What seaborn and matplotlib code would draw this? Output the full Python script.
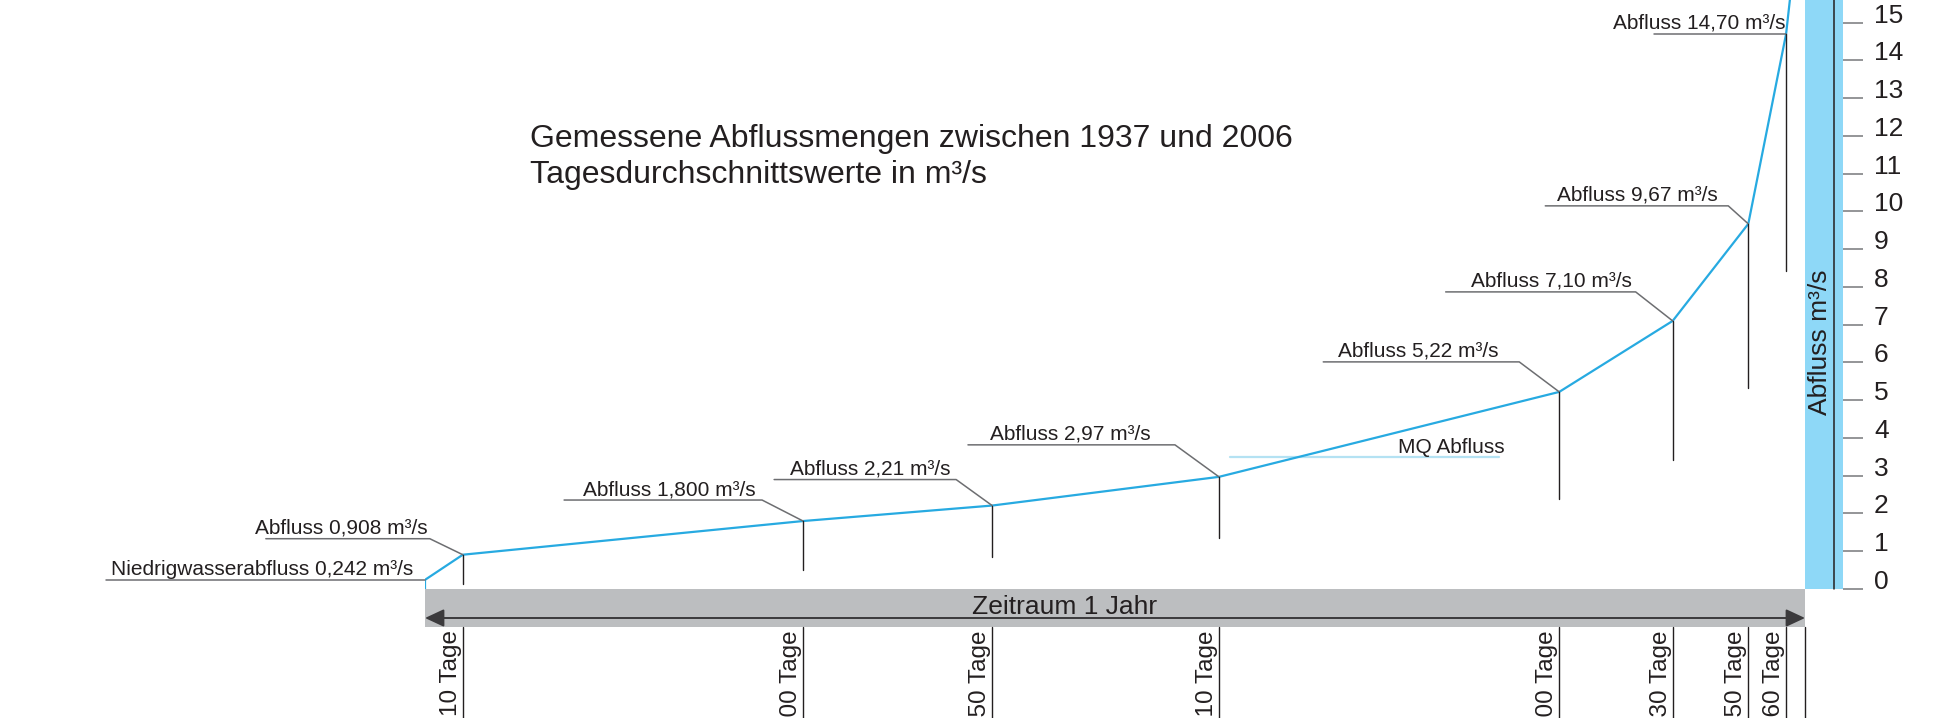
import matplotlib
matplotlib.use("Agg")
import matplotlib.pyplot as plt
from matplotlib.patches import Rectangle
import seaborn as sns
import pandas as pd

# ---------------- data ----------------
days = [0, 0, 10, 100, 150, 210, 300, 330, 350, 360, 365]
discharge = [0.0, 0.242, 0.908, 1.800, 2.21, 2.97, 5.22, 7.10, 9.67, 14.70, 19.2]

point_days = [0, 10, 100, 150, 210, 300, 330, 350, 360]
point_values = [0.242, 0.908, 1.800, 2.21, 2.97, 5.22, 7.10, 9.67, 14.70]
point_labels = ["Niedrigwasserabfluss 0,242 m³/s", "Abfluss 0,908 m³/s",
                "Abfluss 1,800 m³/s", "Abfluss 2,21 m³/s", "Abfluss 2,97 m³/s",
                "Abfluss 5,22 m³/s", "Abfluss 7,10 m³/s", "Abfluss 9,67 m³/s",
                "Abfluss 14,70 m³/s"]

tag_days = [10, 100, 150, 210, 300, 330, 350, 360]
tag_labels = ["10 Tage", "100 Tage", "150 Tage", "210 Tage", "300 Tage",
              "330 Tage", "350 Tage", "360 Tage"]

y_ticks = list(range(0, 16))
mq_value = 3.5
mq_label = "MQ Abfluss"
title_lines = ["Gemessene Abflussmengen zwischen 1937 und 2006",
               "Tagesdurchschnittswerte in m³/s"]
period_label = "Zeitraum 1 Jahr"
axis_label = "Abfluss m³/s"

# ---------------- layout (pixel offsets, styles) ----------------
leader_left_dx = [-319, -197, -239, -218, -251, -236, -227, -203, -132]
leader_bend_dx = [0, -33, -41, -36, -44, -40, -37, -20, 0]
leader_dy = [0, -16, -21, -26, -32, -30, -29, -18, 0]
text_right_dx = [-12, -35, -47, -42, -68, -61, -41, -31, -1]
stub_dy = [None, 29, 49, 51, 61, 107, 139, 164, 237]

TXT = "#231f20"
BLUE = "#27aae1"
BAND = "#8ed8f7"
BAR = "#bcbec0"
LEAD = "#6d6e71"
MQC = "#b4e2f3"

sns.set_style("white")
plt.rcParams["font.family"] = ["Liberation Sans", "DejaVu Sans"]

W, H = 1952, 718
fig = plt.figure(figsize=(W / 100, H / 100), dpi=100, facecolor="white")
x0, x1, y0 = 425, 1805, 589
ax = fig.add_axes([x0 / W, (H - y0) / H, (x1 - x0) / W, y0 / H])
ax.set_xlim(0, 365)
ax.set_ylim(0, y0 / 37.76)
ax.patch.set_alpha(0)

ppd = (x1 - x0) / 365.0          # pixels per day
ppv = 37.76                      # pixels per m³/s


def off(d, v, dxp, dyp):
    """Offset a data point by pixels (dyp positive = downwards)."""
    return d + dxp / ppd, v - dyp / ppv


# curve
df = pd.DataFrame({"Tage": days, "Abfluss": discharge})
sns.lineplot(data=df, x="Tage", y="Abfluss", sort=False, estimator=None,
             color=BLUE, lw=1.6, ax=ax)
ax.set_xlabel("")
ax.set_ylabel("")

# MQ line
ax.plot([213, 284], [mq_value, mq_value], color=MQC, lw=1.6, zorder=1)
tx, ty = off(284, mq_value, 6, -4)
ax.text(tx, ty, mq_label, ha="right", va="baseline", fontsize=15, color=TXT)

# leaders, labels, stubs
for i, (d, v, lab) in enumerate(zip(point_days, point_values, point_labels)):
    pl = off(d, v, leader_left_dx[i], leader_dy[i])
    pb = off(d, v, leader_bend_dx[i], leader_dy[i])
    ax.plot([pl[0], pb[0], d], [pl[1], pb[1], v], color=LEAD, lw=1.1,
            clip_on=False, zorder=2)
    tp = off(d, v, text_right_dx[i], leader_dy[i] - 5)
    ax.text(tp[0], tp[1], lab, ha="right", va="baseline", fontsize=15,
            color=TXT)
    if stub_dy[i] is not None:
        sb = off(d, v, 0, stub_dy[i])
        ax.plot([d, d], [v, sb[1]], color=TXT, lw=1.0, zorder=2)

# right axis: blue band + ticks
band_w = 38
bx = off(365, 0, band_w, 0)[0]
ax.add_patch(Rectangle((365, 0), bx - 365, 20, facecolor=BAND,
                       edgecolor="none", clip_on=False, zorder=0))
lx = off(365, 0, 29, 0)[0]
ax.plot([lx, lx], [0, 20], color=TXT, lw=1.1, clip_on=False)
ax.text(off(365, 0, 15, 0)[0], off(0, 0, 0, -247)[1], axis_label,
        rotation=90, ha="center", va="center", fontsize=19, color=TXT)

for s in ["left", "top", "bottom"]:
    ax.spines[s].set_visible(False)
ax.spines["right"].set_position(("outward", band_w * 0.72))
ax.spines["right"].set_visible(False)
ax.set_xticks([])
ax.yaxis.tick_right()
ax.set_yticks(y_ticks)
ax.set_yticklabels([str(t) for t in y_ticks])
ax.tick_params(axis="y", direction="out", length=14.4, width=1.1,
               color="#77787b", pad=8.0, labelsize=19, labelcolor=TXT)
for t in ax.get_yticklabels():
    t.set_va("baseline")

# period bar
bb = off(0, 0, 0, 38)[1]
ax.add_patch(Rectangle((0, bb), 365, -bb, facecolor=BAR, edgecolor="none",
                       clip_on=False, zorder=0))
ay = off(0, 0, 0, 29)[1]
ax.annotate("", xy=(365, ay), xytext=(0, ay), xycoords="data",
            arrowprops=dict(arrowstyle="<|-|>,head_length=0.58,head_width=0.27",
                            mutation_scale=20, color="#3b3a3c", lw=1.4,
                            shrinkA=0, shrinkB=0), annotation_clip=False)
zx, zy = off(0, 0, 1065 - x0, 25)
ax.text(zx, zy, period_label, ha="center", va="baseline", fontsize=19,
        color=TXT)

# day markers below bar
bot = off(0, 0, 0, H - y0 + 5)[1]
for d, lab in zip(tag_days + [365], tag_labels + [None]):
    ax.plot([d, d], [bb, bot], color=TXT, lw=1.0, clip_on=False)
    if lab:
        p = off(d, bb, -1, 3)
        ax.text(p[0], p[1], lab, rotation=90, ha="right", va="top",
                fontsize=17.5, color=TXT, clip_on=False)

# title
fig.text(530 / W, 1 - 147 / H, title_lines[0], fontsize=23, color=TXT,
         va="baseline", ha="left")
fig.text(530 / W, 1 - 183 / H, title_lines[1], fontsize=23, color=TXT,
         va="baseline", ha="left")

fig.savefig("out.png", dpi=100, facecolor="white")
